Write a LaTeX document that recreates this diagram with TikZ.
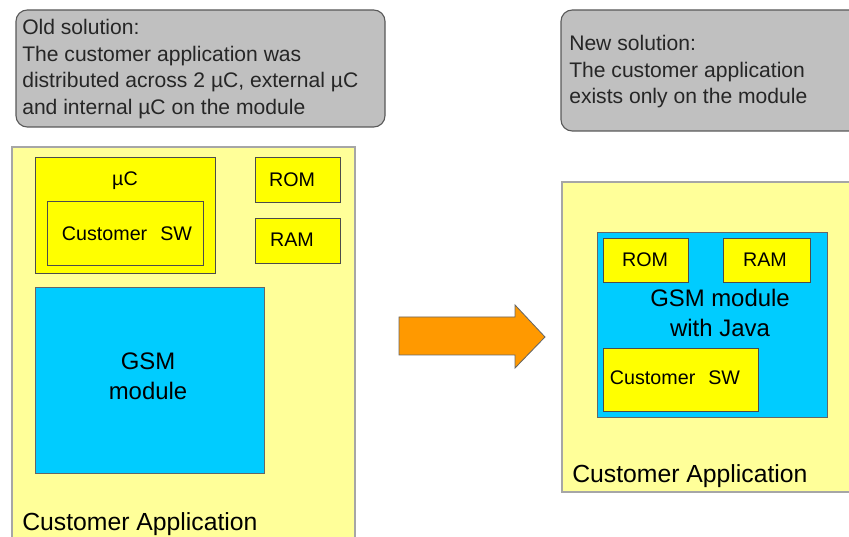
\documentclass[tikz,border=0pt]{standalone}
\usepackage{fontspec}
\setmainfont{Liberation Sans}
\definecolor{notegray}{HTML}{C0C0C0}
\definecolor{paleyellow}{HTML}{FFFF99}
\definecolor{chipyellow}{HTML}{FFFF00}
\definecolor{gsmblue}{HTML}{00CCFF}
\definecolor{arroworange}{HTML}{FF9900}
\tikzset{
	note/.style={draw=black!65, fill=notegray, rounded corners=8pt, line width=0.8pt},
	board/.style={draw=black!35, fill=paleyellow, line width=0.8pt},
	chip/.style={draw=black!70, fill=chipyellow, line width=0.6pt},
	gsm/.style={draw=black!60, fill=gsmblue, line width=0.6pt},
	notetext/.style={anchor=north west, align=left, inner sep=0pt, text=black!85, font=\fontsize{15}{19}\selectfont},
	chiptext/.style={inner sep=0pt, font=\fontsize{14}{16}\selectfont},
	bigtext/.style={inner sep=0pt, align=center, font=\fontsize{17}{21.5}\selectfont},
	apptext/.style={anchor=base west, inner sep=0pt, font=\fontsize{17.6}{20}\selectfont}
}
\begin{document}
\begin{tikzpicture}[x=0.025cm, y=-0.025cm]
		%%%%% START %%%%%
		\useasboundingbox (0, 0) rectangle (849, 537);
		\clip (0, 0) rectangle (849, 537);
		
		% old solution
		\draw[note] (16, 10) rectangle (385, 127);
		\node[notetext] (oldnote) at (22, 19) {Old solution:\\The customer application was\\distributed across 2 µC, external µC\\and internal µC on the module};
		
		\draw[board] (12, 147) rectangle (355, 550);
		\draw[chip] (35, 157) rectangle (215, 273);
		\node[chiptext] (uc) at (125, 181) {µC};
		\draw[chip] (47, 201) rectangle (203, 265);
		\node[chiptext] (oldsw) at (127, 234) {Customer\hspace{0.66em}SW};
		\draw[chip] (255, 157) rectangle (340, 202);
		\node[chiptext] (oldrom) at (292, 180) {ROM};
		\draw[chip] (255, 218) rectangle (340, 263);
		\node[chiptext] (oldram) at (292, 240) {RAM};
		\draw[gsm] (35, 287) rectangle (264, 473);
		\node[bigtext] (oldgsm) at (148, 376) {GSM\\module};
		\node[apptext] (oldapp) at (22, 530) {Customer Application};
		
		% arrow
		\draw[fill=arroworange, draw=black!60, line width=0.6pt] (399, 317) -- (515, 317) -- (515, 305) -- (545, 337) -- (515, 368) -- (515, 355) -- (399, 355) -- cycle;
		
		% new solution
		\draw[note] (561, 10) rectangle (870, 131);
		\node[notetext] (newnote) at (569, 35) {New solution:\\The customer application\\exists only on the module};
		
		\draw[board] (562, 182) rectangle (870, 492);
		\draw[gsm] (597, 232) rectangle (827, 417);
		\draw[chip] (603, 238) rectangle (688, 282);
		\node[chiptext] (newrom) at (645, 260) {ROM};
		\draw[chip] (723, 238) rectangle (810, 282);
		\node[chiptext] (newram) at (765, 260) {RAM};
		\node[bigtext] (newgsm) at (720, 313) {GSM module\\with Java};
		\draw[chip] (603, 348) rectangle (758, 411);
		\node[chiptext] (newsw) at (675, 378) {Customer\hspace{0.66em}SW};
		\node[apptext] (newapp) at (572, 482) {Customer Application};
		%%%%% END %%%%%
\end{tikzpicture}
\end{document}
